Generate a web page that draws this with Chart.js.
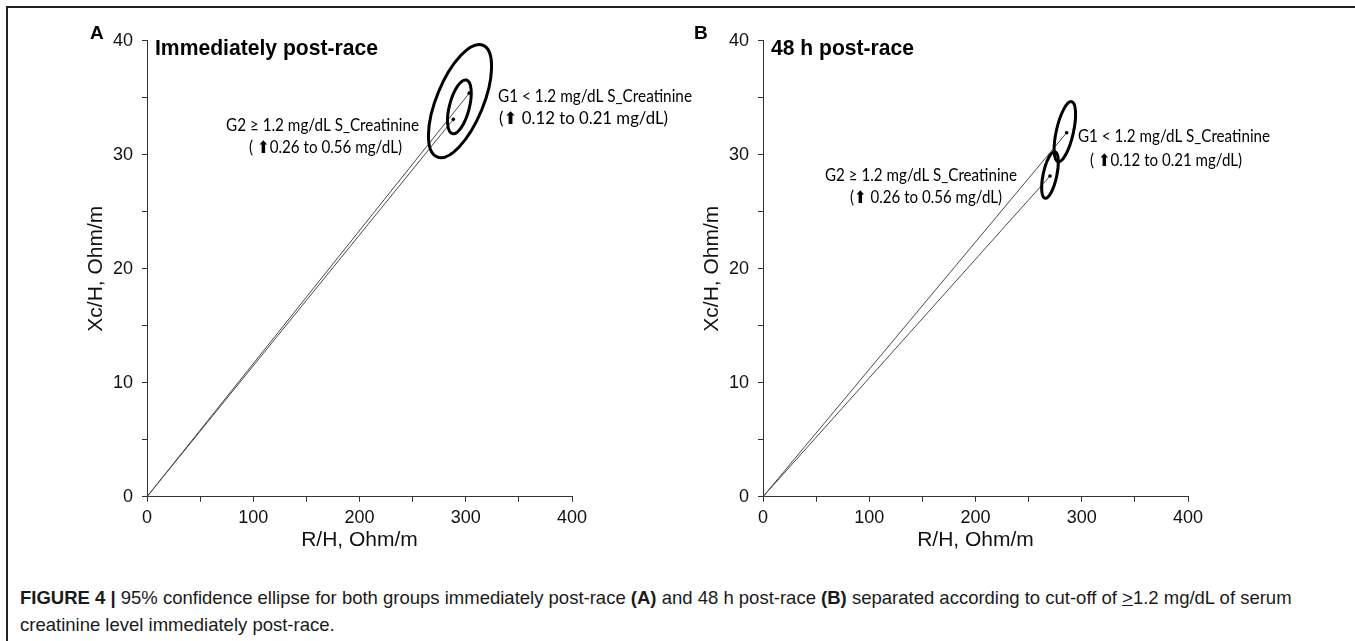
<!DOCTYPE html>
<html>
<head>
<meta charset="utf-8">
<script src="https://cdn.jsdelivr.net/npm/chart.js@4.4.0/dist/chart.umd.min.js"></script>
<style>
  html, body { margin: 0; padding: 0; background: #fff; }
  body { width: 1355px; height: 641px; position: relative; overflow: hidden;
         font-family: "Liberation Sans", Arial, sans-serif; }
  .frame { position: absolute; left: 6px; top: 6px; width: 1400px; height: 700px;
           border-top: 2px solid #222; border-left: 2px solid #222; }
  #chartA { position: absolute; left: 0; top: 0; }
  #chartB { position: absolute; left: 616px; top: 0; }
  .caption { position: absolute; left: 20px; top: 584px; font-size: 18.5px; line-height: 27px;
             color: #1a1a1a; white-space: nowrap; }
</style>
</head>
<body>
<div class="frame"></div>
<canvas id="chartA" width="720" height="570"></canvas>
<canvas id="chartB" width="739" height="570"></canvas>
<div class="caption"><b>FIGURE 4 |</b> 95% confidence ellipse for both groups immediately post-race <b>(A)</b> and 48 h post-race <b>(B)</b> separated according to cut-off of <u>&gt;</u>1.2 mg/dL of serum<br>creatinine level immediately post-race.</div>

<script>
/* axes */
const xTicks = [0, 100, 200, 300, 400];
const yTicks = [0, 10, 20, 30, 40];
const xLabel = "R/H, Ohm/m";
const yLabel = "Xc/H, Ohm/m";

/* panel A - immediately post-race (G1, G2) */
const meanRA  = [303.3, 288.3];
const meanXcA = [35.4, 33.1];
// 95% ellipses: centre, tip of long half-axis, tip of short half-axis
const ellCxA = [294.6, 294.0];
const ellCyA = [34.7, 34.2];
const ellMxA = [316.2, 300.6];
const ellMyA = [39.6, 36.55];
const ellNxA = [314.9, 303.1];
const ellNyA = [33.9, 34.0];

/* panel B - 48 h post-race (G1, G2) */
const meanRB  = [285.8, 270.1];
const meanXcB = [31.93, 28.13];
const ellCxB = [284.1, 270.1];
const ellCyB = [32.02, 28.22];
const ellMxB = [290.5, 274.8];
const ellMyB = [34.65, 30.26];
const ellNxB = [291.9, 276.4];
const ellNyB = [31.85, 28.1];

const NOTE_FONT = '17px Lato, "DejaVu Sans", sans-serif';

// ellipses + text drawn on top of the datasets
function extrasPlugin(ell, texts) {
  return {
    id: 'extras',
    afterDatasetsDraw(chart) {
      const { ctx, scales: { x, y } } = chart;
      ctx.save();
      ctx.strokeStyle = '#000';
      ctx.lineWidth = 3;
      ell.cx.forEach((cx, i) => {
        const px = x.getPixelForValue(cx), py = y.getPixelForValue(ell.cy[i]);
        const ax = x.getPixelForValue(ell.mx[i]) - px, ay = y.getPixelForValue(ell.my[i]) - py;
        const bx = x.getPixelForValue(ell.nx[i]) - px, by = y.getPixelForValue(ell.ny[i]) - py;
        ctx.beginPath();
        ctx.ellipse(px, py, Math.hypot(ax, ay), Math.hypot(bx, by), Math.atan2(ay, ax), 0, Math.PI * 2);
        ctx.stroke();
      });
      ctx.textBaseline = 'middle';
      ctx.textAlign = 'left';
      ctx.fillStyle = '#000';
      texts.forEach(t => {
        ctx.font = t.font || NOTE_FONT;
        if (t.w) ctx.fillText(t.s, t.x, t.y, t.w);
        else ctx.fillText(t.s, t.x, t.y);
      });
      ctx.restore();
    }
  };
}

function makeChart(id, meanR, meanXc, ell, texts, padRight) {
  const lines = meanR.map((r, i) => ({
    data: [{ x: 0, y: 0 }, { x: r, y: meanXc[i] }],
    showLine: true,
    borderColor: '#4a4a4a',
    borderWidth: 1,
    pointRadius: [0, 1.8],
    pointBackgroundColor: '#000',
    pointBorderWidth: 0
  }));

  new Chart(document.getElementById(id), {
    type: 'scatter',
    data: { datasets: lines },
    options: {
      responsive: false,
      animation: false,
      layout: { padding: { left: 80, top: 40.7, right: padRight, bottom: 13.3 } },
      plugins: { legend: { display: false }, tooltip: { enabled: false } },
      scales: {
        x: {
          type: 'linear', min: 0, max: 400,
          afterFit: s => { s.height = 60; },
          border: { display: true, color: '#333', width: 1 },
          grid: { drawOnChartArea: false, drawTicks: true, tickLength: 5, color: '#333' },
          ticks: {
            stepSize: 50, autoSkip: false, maxRotation: 0, padding: 6, color: '#111',
            font: { family: 'Liberation Sans', size: 18 },
            callback: v => xTicks.includes(v) ? v : ''
          },
          title: { display: true, text: xLabel, color: '#111', padding: { top: 0, bottom: 4 },
                   font: { family: 'Liberation Sans', size: 21 } }
        },
        y: {
          type: 'linear', min: 0, max: 40,
          afterFit: s => { s.width = 67; },
          border: { display: true, color: '#333', width: 1 },
          grid: { drawOnChartArea: false, drawTicks: true, tickLength: 5, color: '#333' },
          ticks: {
            stepSize: 5, autoSkip: false, padding: 9, color: '#111',
            font: { family: 'Liberation Sans', size: 18 },
            callback: v => yTicks.includes(v) ? v : ''
          },
          title: { display: true, text: yLabel, color: '#111', padding: { top: 4, bottom: 0 },
                   font: { family: 'Liberation Sans', size: 21 } }
        }
      }
    },
    plugins: [extrasPlugin(ell, texts)]
  });
}

const BOLD_T = 'bold 21.2px "Liberation Sans", Arial, sans-serif';
const BOLD_L = 'bold 19px "Liberation Sans", Arial, sans-serif';

makeChart('chartA', meanRA, meanXcA,
  { cx: ellCxA, cy: ellCyA, mx: ellMxA, my: ellMyA, nx: ellNxA, ny: ellNyA },
  [
    { s: 'A', x: 90, y: 34, font: BOLD_L },
    { s: 'Immediately post-race', x: 155, y: 49, font: BOLD_T, w: 223 },
    { s: 'G2 \u2265 1.2 mg/dL S_Creatinine', x: 226, y: 126, w: 193 },
    { s: '( \u2B060.26 to 0.56 mg/dL)', x: 249, y: 148, w: 153 },
    { s: 'G1 < 1.2 mg/dL S_Creatinine', x: 498, y: 97, w: 194 },
    { s: '(\u2B06 0.12 to 0.21 mg/dL)', x: 499, y: 119, w: 169 }
  ], 148);

makeChart('chartB', meanRB, meanXcB,
  { cx: ellCxB, cy: ellCyB, mx: ellMxB, my: ellMyB, nx: ellNxB, ny: ellNyB },
  [
    { s: 'B', x: 694 - 616, y: 34, font: BOLD_L },
    { s: '48 h post-race', x: 771 - 616, y: 49, font: BOLD_T, w: 143 },
    { s: 'G1 < 1.2 mg/dL S_Creatinine', x: 1078 - 616, y: 137, w: 192 },
    { s: '( \u2B060.12 to 0.21 mg/dL)', x: 1090 - 616, y: 161, w: 152 },
    { s: 'G2 \u2265 1.2 mg/dL S_Creatinine', x: 825 - 616, y: 176, w: 192 },
    { s: '(\u2B06 0.26 to 0.56 mg/dL)', x: 850 - 616, y: 198, w: 152 }
  ], 167);
</script>
</body>
</html>
